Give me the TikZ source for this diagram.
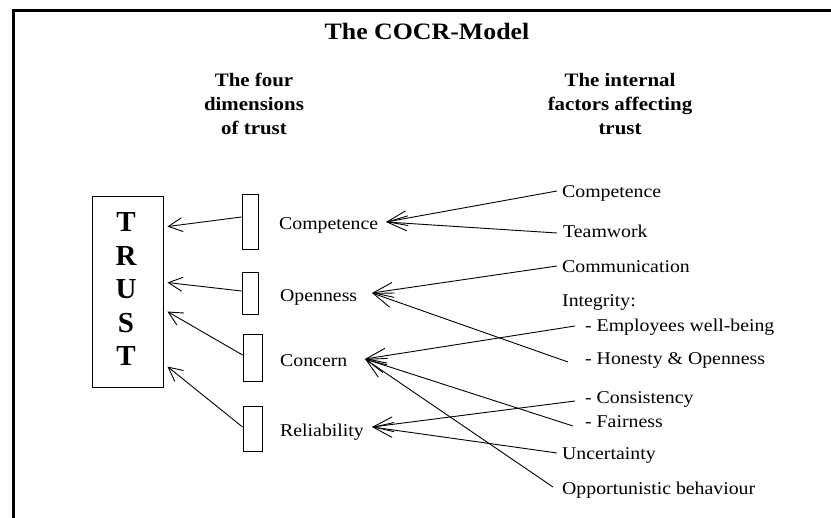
\documentclass[tikz,border=0pt]{standalone}
\usepackage{fontspec}
\setmainfont{Liberation Serif}[FakeStretch=1.1]
\newfontfamily\trustfont{Liberation Serif}
\usetikzlibrary{arrows.meta,calc}
\begin{document}
\begin{tikzpicture}[x=1pt,y=-1pt,
  lbl/.style={inner sep=0pt, text height=12.5pt, text depth=3pt, anchor=west, font=\fontsize{18}{22}\selectfont},
  hdr/.style={inner sep=0pt, align=center, anchor=north, font=\bfseries\fontsize{19}{24}\selectfont},
  dimbox/.style={draw, line width=0.9pt, inner sep=0pt},
  leftarr/.style={line width=0.9pt, -{Straight Barb[length=14pt,width=14pt]}},
  rightarr/.style={line width=0.9pt, -{Straight Barb[length=20pt,width=15pt]}},
  frame/.style={line width=3pt, line join=miter}]
\useasboundingbox (0,0) rectangle (831,518);
% frame (top and left only)
\draw[frame] (13,518) -- (13,11) -- (831,11);
% title and headers
\node[font=\bfseries\fontsize{23.5}{28}\selectfont, anchor=base, inner sep=0pt] (title) at (427,40) {The COCR-Model};
\node[hdr] (h1) at (254,73) {The four\\dimensions\\of trust};
\node[hdr] (h2) at (620,73) {The internal\\factors affecting\\trust};
% TRUST box
\node[dimbox, minimum width=71pt, minimum height=191pt] (trust) at (127.5,291.5) {};
\node[font=\trustfont\bfseries\fontsize{29}{33.5}\selectfont, align=center, inner sep=0pt] (trusttext) at (126,289.5) {T\\R\\U\\S\\T};
% dimension boxes
\node[dimbox, minimum width=16pt, minimum height=55pt] (b1) at (250,221.5) {};
\node[dimbox, minimum width=16pt, minimum height=42pt] (b2) at (250,293) {};
\node[dimbox, minimum width=19pt, minimum height=47pt] (b3) at (252.5,357.5) {};
\node[dimbox, minimum width=19pt, minimum height=45pt] (b4) at (252.5,428.5) {};
% dimension labels
\node[lbl] (m1) at (279,225) {Competence};
\node[lbl] (m2) at (280,297) {Openness};
\node[lbl] (m3) at (280,362) {Concern};
\node[lbl] (m4) at (280,432) {Reliability};
\coordinate (d1) at (386,222);
\coordinate (d2) at (372,293);
\coordinate (d3) at (365,359);
\coordinate (d4) at (372,427);
% factor labels
\node[lbl] (r1) at (562,193) {Competence};
\node[lbl] (r2) at (563,233) {Teamwork};
\node[lbl] (r3) at (562,268) {Communication};
\node[lbl] (r4) at (562,302) {Integrity:};
\node[lbl] (r5) at (585,327) {- Employees well-being};
\node[lbl] (r6) at (585,360) {- Honesty \& Openness};
\node[lbl] (r7) at (585,399) {- Consistency};
\node[lbl] (r8) at (585,423) {- Fairness};
\node[lbl] (r9) at (562,455) {Uncertainty};
\node[lbl] (r10) at (562,490) {Opportunistic behaviour};
% arrows dimensions -> TRUST
\draw[leftarr] ($(b1.west)+(0,-4.5)$) -- ($(trust.north east)+(4,31)$);
\draw[leftarr] ($(b2.west)+(0,-2)$) -- ($(trust.north east)+(4,87)$);
\draw[leftarr] ($(b3.west)+(0,-2.5)$) -- ($(trust.north east)+(4,116)$);
\draw[leftarr] ($(b4.west)+(0,-1.5)$) -- ($(trust.north east)+(4,171)$);
% arrows factors -> dimensions
\draw[rightarr] ($(r1.west)+(-5,-2)$) -- (d1);
\draw[rightarr] ($(r2.west)+(-6,0)$) -- (d1);
\draw[rightarr] ($(r3.west)+(-5,-2)$) -- (d2);
\draw[rightarr] ($(r6.west)+(-17,2)$) -- (d2);
\draw[rightarr] ($(r5.west)+(-10,-1)$) -- (d3);
\draw[rightarr] ($(r8.west)+(-12,3)$) -- (d3);
\draw[rightarr] ($(r10.west)+(-9,-3)$) -- (d3);
\draw[rightarr] ($(r7.west)+(-10,2)$) -- (d4);
\draw[rightarr] ($(r9.west)+(-5,-2)$) -- (d4);
\end{tikzpicture}
\end{document}
